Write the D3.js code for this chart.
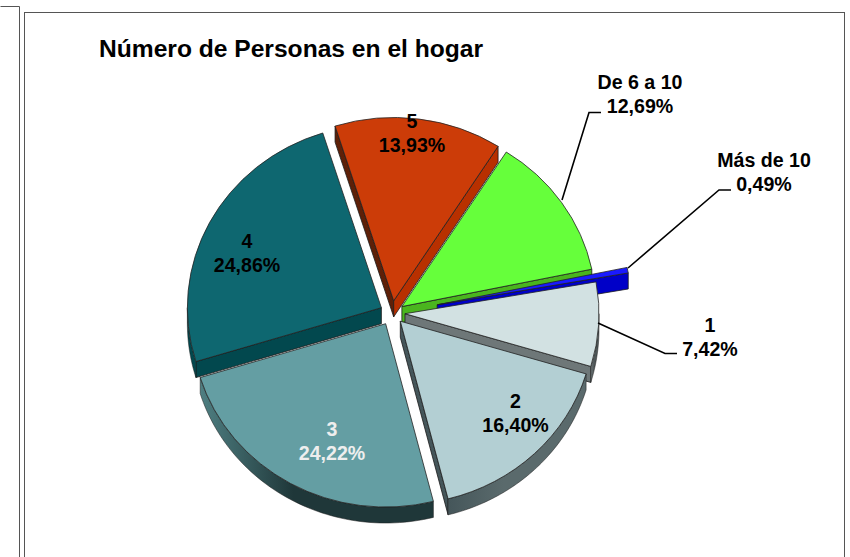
<!DOCTYPE html>
<html><head><meta charset="utf-8">
<script src="https://cdn.jsdelivr.net/npm/d3@7"></script>
<style>html,body{margin:0;background:#fff}svg{display:block}text{font-family:"Liberation Sans",Arial,sans-serif;font-weight:bold}</style>
</head><body><svg id="c" width="850" height="557"></svg>
<script>
const categories = ["1","2","3","4","5","De 6 a 10","Más de 10"];
const values = [7.42,16.40,24.22,24.86,13.93,12.69,0.49];
const topColors = ["#D2E1E2","#B3CFD3","#649EA3","#0E6770","#CC3C08","#66FF3B","#1A1AFF"];
const startSideColors = ["#6E7778","#5A6A6C","#02484E","#02484E","#5E2008","#4AB51E","#0000C8"];
const endSideColors = ["#6E7778","#45565A","#02484E","#02484E","#B83000","#4AB51E","#0000C8"];
const rimLeft = ["#6E7778","#45565A","#4F7F82","#02484E","#6A2410","#4AB51E","#0000C8"];
const rimRight = ["#4E5657","#5A6A6C","#1F3739","#02484E","#6A2410","#4AB51E","#0000C8"];
const explode = [13,12,13,12,13,12,46];
const labelColors = ["#000","#000","#EEE","#000","#000","#000","#000"];
const labelPos = [[710,332],[515.5,408],[332,436],[247,248],[412,128],[640,89],[764,167]];
const title = "Número de Personas en el hogar";

const cx=392, cy=313, rx=194, k=0.945, depth=16, startDeg=80;
const svg=d3.select("#c");
const defs=svg.append("defs");

// frames
svg.append("path").attr("d","M0.5 6.5H19.5V557").attr("fill","none").attr("stroke","#555");
svg.append("rect").attr("x",24.5).attr("y",12.5).attr("width",820).attr("height",560).attr("fill","#fff").attr("stroke","#555");

svg.append("text").attr("x",99).attr("y",57).attr("font-size",24.6).attr("fill","#000").text(title);

const start=startDeg*Math.PI/180;
const pie=d3.pie().sort(null).startAngle(start).endAngle(start+2*Math.PI);
const arcs=pie(values);
const arc=d3.arc().innerRadius(0).outerRadius(rx);
const pt=(o,a,r)=>{const p=d3.pointRadial(a,r);return [o[0]+p[0],o[1]+p[1]*k];};
const line=d3.line();
const order=arcs.map((d,i)=>i).sort((a,b)=>Math.cos((arcs[b].startAngle+arcs[b].endAngle)/2)-Math.cos((arcs[a].startAngle+arcs[a].endAngle)/2));

order.forEach(i=>{
  const d=arcs[i], m=(d.startAngle+d.endAngle)/2;
  const o=pt([cx,cy],m,explode[i]);
  const g=svg.append("g");
  const wallStyle=s=>s.attr("stroke","#1a1a1a").attr("stroke-width",0.8).attr("stroke-linejoin","round");
  // radial side walls that face the viewer
  [[d.startAngle,d.startAngle-Math.PI/2,startSideColors[i]],[d.endAngle,d.endAngle+Math.PI/2,endSideColors[i]]].forEach(([a,n,col])=>{
    if(Math.cos(n)<0){
      const rim=pt(o,a,rx);
      const q=[o,rim,[rim[0],rim[1]+depth],[o[0],o[1]+depth]];
      g.append("path").attr("d",line(q)+"Z").attr("fill",col).call(wallStyle);
    }
  });
  // outer rim wall: portions of the arc in the lower half
  [[Math.PI/2,3*Math.PI/2],[Math.PI/2+2*Math.PI,3*Math.PI/2+2*Math.PI]].forEach(([lo,hi])=>{
    const a0=Math.max(d.startAngle,lo), a1=Math.min(d.endAngle,hi);
    if(a1>a0){
      const as=d3.range(0,61).map(t=>a0+(a1-a0)*t/60);
      const topE=as.map(a=>pt(o,a,rx));
      const botE=as.map(a=>{const p=pt(o,a,rx);return [p[0],p[1]+depth];}).reverse();
      const id="rim"+i;
      const gr=defs.append("linearGradient").attr("id",id).attr("gradientUnits","userSpaceOnUse")
        .attr("x1",d3.min(topE,p=>p[0])).attr("x2",d3.max(topE,p=>p[0])).attr("y1",0).attr("y2",0);
      gr.append("stop").attr("offset",0).attr("stop-color",rimLeft[i]);
      gr.append("stop").attr("offset",0.4).attr("stop-color",rimRight[i]);
      gr.append("stop").attr("offset",1).attr("stop-color",rimRight[i]);
      g.append("path").attr("d",line(topE.concat(botE))+"Z").attr("fill",`url(#${id})`).attr("stroke","#1a1a1a").attr("stroke-width",0.5);
    }
  });
  // top face
  g.append("path").attr("d",arc(d))
    .attr("transform",`translate(${o[0]},${o[1]}) scale(1,${k})`)
    .attr("fill",topColors[i]).attr("stroke","#222").attr("stroke-width",0.8)
    .attr("vector-effect","non-scaling-stroke").style("vector-effect","non-scaling-stroke");
});

// leader lines
const leaders=[
  {i:5,pts:[[562,200],[589,112.5],[601,112.5]]},
  {i:6,pts:[[628,268],[719,190],[731,190]]},
  {i:0,pts:[[598,323],[665,353.5],[677,353.5]]}
];
leaders.forEach(l=>svg.append("path").attr("d",line(l.pts)).attr("fill","none").attr("stroke","#000").attr("stroke-width",1.6));

// labels
const fmt=v=>d3.format(".2f")(v).replace(".",",")+"%";
categories.forEach((c,i)=>{
  const t=svg.append("text").attr("text-anchor","middle").attr("font-size",19.6).attr("fill",labelColors[i]);
  const [x,y]=labelPos[i];
  t.append("tspan").attr("x",x).attr("y",y).text(c);
  t.append("tspan").attr("x",x).attr("y",y+24).text(fmt(values[i]));
});
</script></body></html>
